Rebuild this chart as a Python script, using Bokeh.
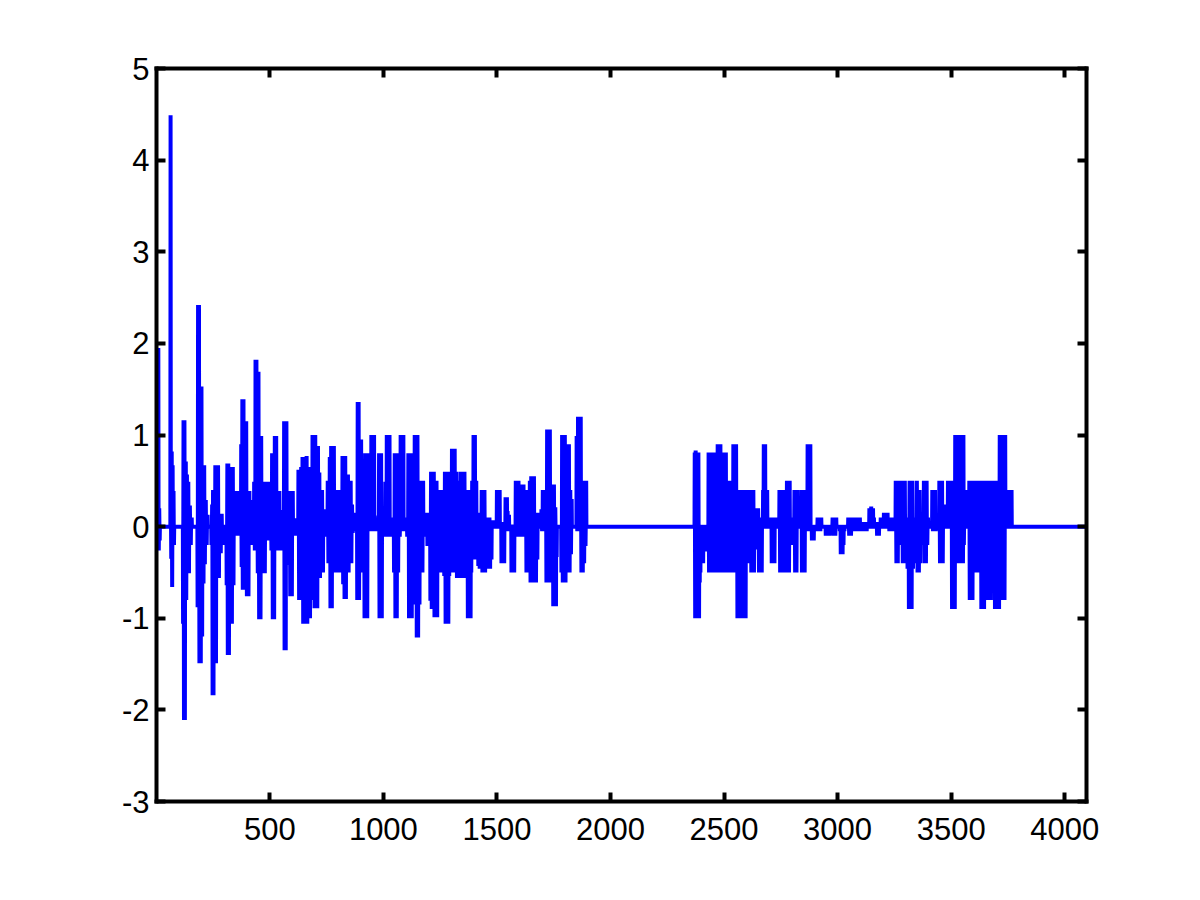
import numpy as np
from bokeh.plotting import figure
from bokeh.models import Range1d, LinearAxis, FixedTicker
from bokeh.embed import file_html
from bokeh.resources import INLINE

# ---------------- data (sample index, value) ----------------
n_samples = 4096

burst_a = [
    (9, 1.95), (11, -0.26), (13, 0.2), (15, -0.15),
    (63, 4.49), (66, -0.35), (68, 0.82), (70, -0.66), (72, 0.67), (74, -0.2), (76, 0.39), (78, -0.2),
    (118, -1.06), (120, 1.16), (122, -2.11), (124, 1.16), (126, -2.11), (130, 0.71), (132, -0.8),
    (135, 0.57), (138, -0.51), (141, 0.49), (144, -0.51), (148, 0.23), (152, -0.2), (156, 0.1),
    (182, -0.88), (184, 2.42), (186, -0.88), (188, 2.42), (190, -1.49), (194, 1.53), (196, -1.49),
    (199, 1.53), (202, -1.2), (205, 0.67), (208, -0.62), (211, 0.67), (214, -0.41), (218, 0.29),
    (222, -0.2), (226, 0.13),
    (243, -0.2), (246, 0.24), (248, -1.84), (250, 0.4), (252, -1.84), (255, 0.4), (257, -1.49),
    (260, 0.67), (263, -1.49), (266, 0.67), (269, -0.56), (272, 0.67), (276, -0.56), (280, 0.14),
    (284, -0.29), (288, 0.14), (292, -0.2),
    (310, -0.64), (313, 0.69), (315, -1.4), (317, 0.69), (320, -1.4), (324, 0.65), (327, -1.06),
    (330, 0.65), (333, -1.06), (337, 0.65), (340, -0.64), (344, 0.39), (348, -0.1), (352, 0.39),
    (356, -0.1),
    (360, 0.39), (362, -0.1), (365, 0.39), (368, -0.1), (371, 0.39), (374, 0.9), (376, -0.44),
    (379, 1.39), (381, -0.69), (384, 1.39), (387, -0.69), (390, 1.15), (393, -0.51), (396, 1.15),
    (399, -0.76), (403, 0.39), (406, -0.76), (410, 0.39), (413, -0.2),
    (425, 0.29), (428, -0.2), (431, 0.49), (434, -0.26), (437, 1.82), (439, -0.26), (441, 1.82),
    (444, 1.69), (447, -0.51), (450, 1.69), (453, -1.01), (456, 0.99), (459, -1.01), (462, 0.99),
    (465, -0.51), (468, 0.49), (471, -0.51), (475, 0.29),
    (478, -0.51), (482, 0.49), (490, 0.49), (493, -0.15), (497, 0.49), (500, -0.15), (504, 0.49),
    (507, -0.26), (510, 0.8), (513, -1.01), (516, 0.8), (519, -1.01), (522, 0.99), (525, -0.26),
    (528, 0.99), (531, -0.15), (535, 0.39), (538, -0.26), (542, 0.39), (546, 0.18), (550, -0.26),
    (554, 0.1),
    (560, -0.2), (563, 1.15), (565, -1.35), (567, 1.15), (570, -1.35), (573, 1.15), (576, -0.42),
    (580, 0.39), (583, -0.42), (587, 0.39), (590, -0.76), (593, 0.39), (597, -0.76), (601, 0.39),
    (605, -0.1), (609, 0.09), (614, -0.1), (619, 0.09),
    (626, 0.62), (629, -0.8), (632, 0.62), (635, -0.8), (638, 0.65), (641, -0.5), (644, 0.76),
    (647, -1.06), (650, 0.76), (653, -1.06), (656, 0.65), (659, -1.01), (662, 0.77), (665, -1.06),
    (668, 0.65), (671, -1.0), (674, 0.65), (677, -1.0), (681, 0.4), (684, -0.5),
]

burst_b = [
    (688, 1.0), (691, -0.8), (694, 1.0), (697, -0.89), (700, 1.0), (703, -0.89), (706, 0.88),
    (709, -0.89), (712, 0.88), (715, -0.56), (718, 0.59), (721, -0.56), (724, 0.4), (727, -0.5),
    (730, 0.4), (734, -0.5), (737, 0.19), (741, -0.11), (745, 0.19), (749, -0.11),
    (755, 0.5), (758, -0.4), (761, 0.5), (764, 0.76), (767, -0.89), (770, 0.88), (773, -0.89),
    (776, 0.88), (779, -0.45), (782, 0.88), (785, -0.45), (788, 0.3), (791, -0.5), (794, 0.4),
    (797, -0.5), (800, 0.4), (803, -0.26), (806, 0.4), (809, -0.5), (813, 0.1),
    (820, 0.77), (823, -0.63), (826, 0.77), (829, -0.79), (832, 0.77), (835, -0.79), (838, 0.57),
    (841, -0.5), (844, 0.57), (847, -0.5), (850, 0.5), (853, -0.4), (856, 0.5), (859, -0.4),
    (862, 0.24), (865, -0.07), (870, 0.15), (874, -0.05), (878, 0.15), (882, -0.05),
    (885, -0.8), (887, 1.36), (889, -0.8), (891, 1.36), (893, -0.8), (896, 0.95), (899, -0.5),
    (902, 0.95), (905, -0.5), (908, 0.46), (911, -0.5), (914, 0.4), (917, -1.0), (920, 0.8),
    (923, -1.0), (926, 0.8), (929, -1.0), (932, 0.8), (935, 0.1), (939, -0.05),
    (944, 0.1), (947, 1.0), (950, -0.05), (953, 1.0), (956, -0.05), (959, 1.0), (963, 0.1),
    (967, -0.05), (971, 0.1),
    (978, 0.12), (981, 0.8), (983, -1.0), (985, 0.8), (987, -1.0), (990, 0.8), (993, -1.0),
    (997, -0.11), (1001, 0.12), (1005, -0.11),
    (1009, 0.49), (1012, -0.11), (1015, 1.0), (1018, -0.11), (1021, 1.0), (1024, -0.11),
    (1027, 1.0), (1031, 0.1), (1035, -0.11),
    (1044, 0.1), (1047, -0.5), (1050, 0.8), (1053, -1.0), (1056, 0.8), (1059, -1.0), (1062, 0.8),
    (1065, -0.5), (1069, 0.1), (1072, -0.11),
    (1076, 1.0), (1079, -0.05), (1082, 1.0), (1085, -0.05), (1088, 1.0), (1092, 0.1), (1096, -0.05),
    (1101, 0.1), (1105, -0.11), (1110, 0.8), (1113, -1.0), (1116, 0.8), (1119, -1.0), (1122, 0.8),
    (1125, -1.0), (1129, -0.11),
    (1132, 0.39), (1135, -0.48), (1138, 1.0), (1141, -0.85), (1144, 1.0), (1147, -1.21),
    (1150, 1.0), (1153, -1.21), (1156, 0.46), (1159, -0.85),
    (1163, 0.5), (1166, -0.5), (1169, 0.5), (1172, -0.5), (1175, 0.5), (1178, -0.11), (1182, 0.15),
    (1186, -0.11), (1190, 0.15), (1194, -0.21), (1198, 0.15), (1202, -0.21),
    (1207, -0.81), (1210, 0.6), (1213, -0.9), (1216, 0.6), (1219, -0.9), (1222, 0.6), (1225, -0.99),
    (1228, 0.5), (1231, -0.99), (1234, 0.5), (1237, -0.99),
    (1241, 0.4), (1244, -0.5), (1247, 0.4), (1250, -0.5), (1254, 0.4), (1258, -0.5), (1262, 0.1),
    (1268, -0.54), (1271, 0.6), (1274, -1.06), (1277, 0.6), (1280, -1.06), (1283, 0.6),
    (1286, -1.06), (1290, -0.54),
    (1296, 0.6), (1299, -0.5), (1302, 0.85), (1305, -0.5), (1308, 0.85), (1311, -0.46),
    (1314, 0.85), (1317, -0.5), (1320, 0.6),
    (1324, -0.56), (1327, 0.2), (1330, -0.4), (1333, 0.5), (1336, -0.56), (1339, 0.6), (1342, -0.56),
    (1345, 0.6), (1348, -0.56), (1351, 0.6), (1354, -0.56), (1357, 0.6), (1360, -0.15), (1363, 0.4),
    (1366, -0.5), (1369, 0.4), (1372, -1.0), (1375, 0.4), (1378, -1.0), (1381, 0.4), (1384, -1.0),
    (1387, -0.5),
    (1391, 0.5), (1394, -0.18), (1397, 1.0), (1400, -0.36), (1403, 1.0), (1406, -0.36), (1409, 0.5),
    (1412, -0.36), (1415, 0.15), (1418, -0.43), (1421, 0.15), (1424, -0.46), (1427, 0.15),
    (1430, -0.46),
    (1433, 0.4), (1436, -0.5), (1439, 0.4), (1442, -0.5), (1445, 0.4), (1448, -0.5), (1451, 0.1),
    (1455, 0.1), (1458, -0.23), (1461, 0.1), (1464, -0.46), (1467, 0.1), (1470, -0.46), (1473, 0.05),
    (1476, -0.36), (1480, 0.05), (1485, 0.07), (1489, 0.04), (1493, 0.07),
    (1500, 0.4), (1503, 0.19), (1506, 0.4), (1509, 0.19), (1512, 0.4), (1516, 0.05),
    (1520, -0.4), (1523, 0.05), (1526, -0.4), (1529, 0.05), (1532, -0.4), (1535, 0.05),
    (1538, 0.32), (1541, -0.05), (1544, 0.32), (1547, 0.17), (1550, -0.05), (1553, 0.13),
    (1556, -0.05),
    (1564, -0.5), (1567, 0.02), (1570, -0.5), (1573, 0.02), (1576, -0.5), (1579, 0.02),
    (1583, 0.5), (1586, -0.11), (1589, 0.5), (1592, -0.11), (1595, 0.5), (1598, 0.4), (1601, -0.11),
    (1605, 0.46), (1608, -0.11), (1611, 0.46), (1614, -0.11), (1617, 0.46), (1620, 0.4),
    (1623, -0.11),
    (1627, 0.19), (1630, -0.5), (1633, 0.4), (1636, -0.5), (1639, 0.4), (1642, -0.5),
    (1645, 0.5), (1648, -0.61), (1651, 0.55), (1654, -0.61), (1657, 0.55), (1660, -0.61),
    (1663, 0.55), (1666, -0.61), (1669, 0.15), (1672, -0.61), (1675, 0.15), (1678, -0.36),
    (1682, 0.15),
    (1696, 0.19), (1699, -0.05), (1702, 0.4), (1705, -0.05), (1708, 0.4), (1711, -0.05), (1714, 0.4),
    (1718, -0.61), (1721, 1.06), (1724, -0.61), (1727, 1.06), (1730, -0.61), (1733, 1.06),
    (1736, -0.61),
    (1739, 0.46), (1742, -0.61), (1745, 0.46), (1748, -0.87), (1751, 0.46), (1754, -0.87),
    (1757, 0.21), (1760, -0.87), (1763, -0.33),
    (1784, -0.5), (1787, 1.0), (1790, -0.61), (1793, 1.0), (1796, -0.61), (1799, 1.0), (1802, -0.61),
    (1805, 0.9), (1808, -0.5), (1811, 0.9), (1814, -0.5), (1817, 0.9), (1820, -0.5), (1823, 0.4),
    (1826, -0.3), (1829, 0.3),
    (1851, 0.99), (1854, -0.05), (1857, 1.2), (1860, -0.05), (1863, 1.2), (1866, -0.05), (1869, 1.2),
    (1872, -0.5), (1875, 0.5), (1878, -0.5), (1881, 0.5), (1884, -0.4), (1887, 0.5), (1890, -0.21),
    (1893, 0.5),
]

burst_c = [
    (2371, 0.81), (2373, -1.0), (2375, 0.83), (2378, -1.0), (2381, 0.81), (2384, -1.0),
    (2387, 0.81), (2390, -1.0), (2393, -0.61), (2396, -0.5),
    (2400, -0.4), (2404, -0.19), (2408, -0.4), (2412, -0.27), (2416, -0.19), (2420, -0.27),
    (2432, 0.81), (2434, -0.5), (2436, 0.81), (2438, -0.5), (2440, 0.81), (2442, -0.5),
    (2444, 0.81), (2446, -0.5), (2448, 0.81), (2450, -0.5), (2452, 0.81), (2454, -0.5),
    (2456, 0.81), (2458, -0.5), (2460, 0.81), (2462, -0.5), (2464, 0.5), (2466, -0.5),
    (2468, 0.5), (2470, -0.5), (2472, 0.9), (2474, -0.5), (2476, 0.9), (2478, -0.5),
    (2480, 0.9), (2482, -0.5), (2484, 0.9), (2486, -0.5), (2488, 0.5), (2490, -0.5),
    (2492, 0.81), (2494, -0.5), (2496, 0.81), (2498, -0.5), (2500, 0.81), (2502, -0.5),
    (2504, 0.81), (2506, -0.5), (2508, 0.81), (2510, -0.5),
    (2516, 0.1), (2518, -0.5), (2521, 0.5), (2523, -0.5), (2525, 0.5), (2527, -0.5),
    (2529, 0.5), (2531, -0.5), (2533, 0.5), (2535, -0.5), (2537, 0.5), (2539, -0.5),
    (2541, 0.9), (2543, -0.5), (2545, 0.9), (2547, -0.5), (2549, 0.9), (2551, -0.5),
    (2553, 0.9), (2555, -0.5),
    (2557, 0.4), (2559, -1.0), (2561, 0.4), (2563, -1.0), (2565, 0.4), (2567, -1.0),
    (2569, 0.4), (2571, -1.0), (2573, 0.4), (2575, -1.0), (2577, 0.4), (2579, -1.0),
    (2581, 0.4), (2583, -1.0), (2585, 0.4), (2587, -1.0), (2589, 0.4), (2591, -1.0),
    (2593, 0.4), (2595, -1.0), (2597, 0.4),
    (2600, 0.4), (2603, -0.4), (2606, 0.4), (2609, -0.4), (2612, 0.1),
    (2617, 0.4), (2620, -0.5), (2623, 0.4), (2626, -0.5), (2629, 0.4), (2632, -0.5),
    (2638, 0.2), (2641, -0.25), (2644, 0.2), (2647, -0.25), (2650, 0.2),
    (2654, -0.5), (2657, 0.1), (2660, -0.5), (2663, 0.1), (2666, -0.5),
    (2672, 0.4), (2675, 0.9), (2678, 0.2), (2681, 0.9), (2684, 0.4), (2687, 0.2), (2690, 0.4),
    (2705, 0.1), (2710, -0.4), (2713, 0.1), (2716, -0.4), (2719, 0.1), (2722, -0.4), (2726, 0.1),
    (2730, 0.1), (2734, 0.02), (2738, 0.1),
    (2744, 0.4), (2747, -0.5), (2750, 0.4), (2753, -0.5), (2756, 0.4), (2759, -0.5), (2762, 0.1),
    (2771, 0.4), (2774, -0.5), (2777, 0.5), (2780, -0.5), (2783, 0.5), (2786, -0.5), (2789, 0.5),
    (2795, -0.2), (2799, 0.1), (2803, -0.2), (2806, 0.1),
    (2810, 0.4), (2813, -0.5), (2816, 0.4), (2819, -0.5), (2822, 0.4), (2826, 0.1),
    (2840, 0.4), (2843, -0.5), (2846, 0.4), (2849, -0.5), (2852, 0.4), (2855, -0.5), (2858, 0.4),
    (2868, 0.9), (2871, -0.05), (2874, 0.9), (2877, -0.05), (2880, 0.9), (2883, -0.05),
    (2887, -0.15), (2891, -0.05), (2895, -0.15), (2899, -0.05),
    (2912, 0.1), (2916, -0.05), (2920, 0.1), (2924, -0.05), (2928, 0.1),
    (2948, -0.1), (2952, -0.05), (2956, -0.1), (2960, -0.05), (2964, -0.1),
    (2978, 0.1), (2982, -0.1), (2986, 0.1), (2990, -0.1), (2994, 0.1),
    (3010, -0.05), (3014, -0.3), (3018, -0.2), (3022, -0.3), (3026, -0.2), (3030, -0.05),
    (3047, 0.1), (3051, -0.1), (3055, 0.1), (3059, -0.1), (3063, 0.1),
    (3070, 0.1), (3074, -0.05), (3078, 0.1), (3082, -0.05),
]

burst_d = [
    (3090, 0.1), (3094, -0.05), (3098, 0.1), (3104, -0.05), (3110, -0.05), (3116, 0.05),
    (3120, -0.05), (3124, 0.05), (3128, -0.05), (3132, 0.05),
    (3140, 0.2), (3144, 0.1), (3148, 0.22), (3152, 0.1), (3156, 0.2), (3160, 0.1),
    (3174, -0.1), (3178, 0.05), (3182, -0.1), (3186, 0.05), (3190, 0.1), (3194, 0.05), (3198, 0.1),
    (3204, 0.15), (3208, 0.05), (3212, 0.15), (3216, 0.05), (3220, 0.15),
    (3228, -0.05), (3232, 0.1), (3236, -0.05), (3240, 0.1), (3244, 0.05), (3248, -0.05),
    (3256, 0.5), (3259, -0.4), (3262, 0.5), (3265, -0.4), (3268, 0.5), (3271, -0.2),
    (3275, 0.1), (3278, -0.1), (3281, 0.1), (3284, 0.5), (3287, -0.4), (3290, 0.5), (3293, -0.4),
    (3296, 0.5), (3299, -0.1),
    (3305, 0.1), (3308, -0.46), (3311, 0.1), (3314, -0.9), (3317, 0.5), (3320, -0.9), (3323, 0.5),
    (3326, -0.9), (3329, 0.5), (3332, -0.46), (3335, 0.1),
    (3346, -0.4), (3349, 0.5), (3352, -0.5), (3355, 0.4), (3358, -0.5), (3361, 0.4), (3364, -0.4),
    (3367, 0.1), (3370, -0.2),
    (3374, 0.1), (3377, -0.1), (3380, 0.5), (3383, -0.4), (3386, 0.5), (3389, -0.4), (3392, 0.5),
    (3395, -0.2), (3398, 0.1),
    (3417, 0.4), (3420, -0.05), (3423, 0.4), (3426, 0.1), (3429, 0.4), (3432, -0.05), (3436, 0.1),
    (3448, 0.5), (3451, -0.4), (3454, 0.5), (3457, -0.4), (3460, 0.5), (3463, -0.4), (3466, 0.1),
    (3476, 0.24), (3479, 0.1), (3482, 0.24), (3486, 0.5), (3489, 0.1), (3492, 0.5), (3495, 0.1),
    (3498, 0.5),
    (3504, -0.9), (3507, 0.5), (3510, -0.9), (3513, 0.4), (3516, -0.9), (3518, 1.0), (3520, -0.2),
    (3522, 1.0), (3524, -0.4), (3526, 1.0), (3528, -0.4), (3530, 1.0), (3532, -0.4), (3534, 1.0),
    (3536, -0.4), (3538, 1.0), (3540, -0.4), (3542, 1.0), (3544, -0.4), (3546, 1.0), (3548, -0.4),
    (3550, 1.0), (3552, -0.4), (3554, 1.0), (3556, -0.2),
    (3559, 0.4), (3562, 0.1), (3565, 0.4), (3568, 0.1), (3571, 0.4), (3574, 0.1), (3577, 0.4),
    (3580, 0.5), (3582, -0.8), (3584, 0.5), (3586, -0.8), (3588, 0.5), (3590, -0.8), (3592, 0.5),
    (3594, -0.8), (3596, 0.5), (3600, 0.5), (3603, -0.5), (3606, 0.5), (3609, -0.5), (3612, 0.5),
    (3615, -0.5), (3618, 0.5), (3621, -0.5), (3624, 0.5), (3627, -0.5),
    (3630, 0.5), (3633, -0.9), (3636, 0.5), (3639, -0.9), (3642, 0.5), (3645, -0.9), (3648, 0.5),
    (3651, -0.8), (3654, 0.5), (3657, -0.8), (3660, 0.5), (3663, -0.8), (3666, 0.5), (3669, -0.8),
    (3672, 0.5), (3675, -0.8), (3678, 0.5), (3681, -0.5), (3684, 0.5), (3687, -0.5),
    (3690, 0.5), (3693, -0.9), (3696, 0.5), (3699, -0.9), (3702, 0.5), (3705, -0.9), (3708, 0.5),
    (3711, -0.9),
    (3714, 1.0), (3717, -0.8), (3720, 1.0), (3723, -0.8), (3726, 1.0), (3729, -0.8), (3732, 1.0),
    (3735, -0.8), (3738, 1.0),
    (3748, 0.4), (3751, 0.1), (3754, 0.4), (3757, 0.1), (3760, 0.4), (3763, 0.4), (3766, 0.4),
]

x_ticks = [500, 1000, 1500, 2000, 2500, 3000, 3500, 4000]
y_ticks = [-3, -2, -1, 0, 1, 2, 3, 4, 5]

# full signal: zeros except at the listed samples
sample = np.arange(1, n_samples + 1)
signal = np.zeros(n_samples)
for burst in (burst_a, burst_b, burst_c, burst_d):
    for idx, val in burst:
        signal[idx - 1] = val

# ---------------- figure ----------------
W, H = 1184, 884
FL, FT, FR, FB = 156, 68, 1086, 801   # frame edges in page pixels
p = figure(width=W, height=H, x_range=Range1d(1, 4096), y_range=Range1d(-3, 5),
           output_backend="svg", toolbar_location=None,
           x_axis_location=None, y_axis_location=None,
           min_border_left=FL, min_border_right=W - FR,
           min_border_top=FT, min_border_bottom=H - FB)
p.background_fill_color = "white"
p.border_fill_color = "white"
p.outline_line_color = None
p.grid.grid_line_color = None
p.grid.visible = False

p.line(sample, signal, line_color="#0000ff", line_width=4, line_join="bevel")

FONT = "Liberation Sans"


def style(ax, ticks, labels):
    ax.ticker = FixedTicker(ticks=ticks)
    ax.axis_line_color = "black"
    ax.axis_line_width = 4
    ax.axis_line_cap = "square"
    ax.major_tick_in = 9
    ax.major_tick_out = 0
    ax.major_tick_line_width = 4
    ax.major_tick_line_color = "black"
    ax.minor_tick_line_color = None
    ax.major_label_text_font = FONT
    ax.major_label_text_font_size = "31px"
    ax.major_label_text_color = "black"
    if labels:
        ax.major_label_overrides = {t: str(t) for t in ticks}
    else:
        ax.major_label_overrides = {t: "" for t in ticks}
        ax.major_label_standoff = 0


x_bottom = LinearAxis()
style(x_bottom, x_ticks, True)
x_bottom.major_label_standoff = 16
y_left = LinearAxis()
style(y_left, y_ticks, True)
y_left.major_label_standoff = 7
x_top = LinearAxis()
style(x_top, x_ticks, False)
y_right = LinearAxis()
style(y_right, y_ticks, False)

p.add_layout(x_bottom, "below")
p.add_layout(y_left, "left")
p.add_layout(x_top, "above")
p.add_layout(y_right, "right")

open("out.html", "w").write(file_html(p, INLINE))
